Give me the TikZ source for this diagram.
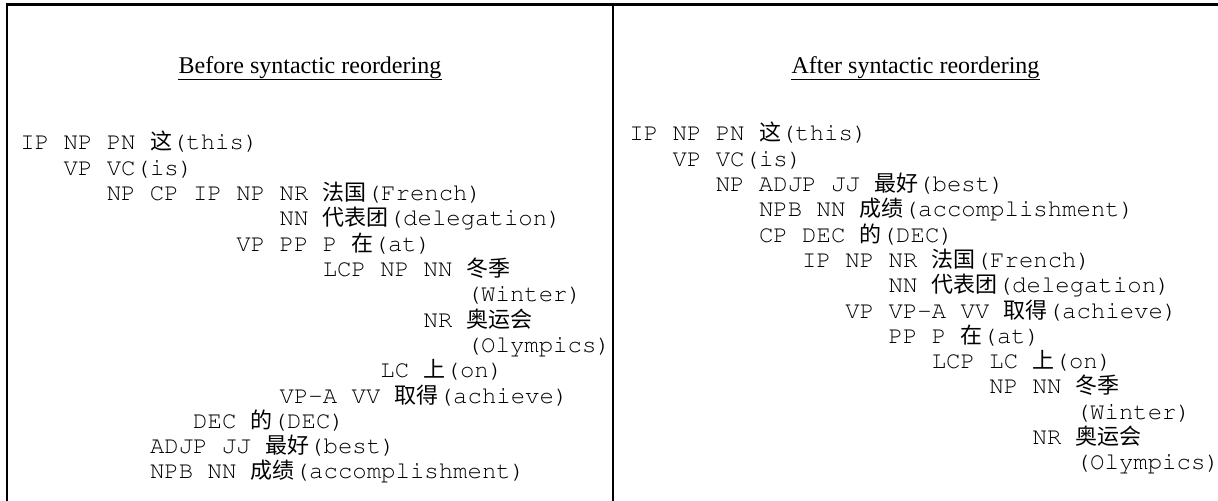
\documentclass[tikz,border=0pt]{standalone}
\usepackage[T1]{fontenc}
\usepackage{fontspec}
\setmainfont{Liberation Serif}
\newcommand\monof{\fontencoding{T1}\fontfamily{pcr}\fontseries{m}\fontshape{n}}
\newfontfamily\cjk{Noto Sans CJK SC}
\newcommand\zh[1]{{\cjk\fontsize{11}{11}\selectfont #1}}
\begin{document}
\begin{tikzpicture}[
  ln/.style={anchor=base west, inner sep=0pt, font=\monof\fontsize{12}{12}\selectfont},
  ttl/.style={anchor=base, inner sep=0pt, font=\fontsize{12}{12}\selectfont},
  rule/.style={line width=1.15pt},
  uline/.style={line width=0.65pt}]
\useasboundingbox (0,0) rectangle (609pt,-250.5pt);
\coordinate (bl) at (3.5pt,-250.5pt);
\coordinate (tl) at (3.5pt,-2.25pt);
\coordinate (tr) at (609pt,-2.25pt);
\coordinate (dt) at (306.5pt,-2.25pt);
\coordinate (db) at (306.5pt,-250.5pt);
\draw[rule] (bl) -- (tl) -- (tr);
\draw[rule] (dt) -- (db);
% titles
\node[ttl] (ttlL) at (155pt,-37pt) {Before syntactic reordering};
\node[ttl] (ttlR) at (457.75pt,-37pt) {After syntactic reordering};
\draw[uline] ([yshift=-2.6pt]ttlL.base west) -- ([yshift=-2.6pt]ttlL.base east);
\draw[uline] ([yshift=-2.6pt]ttlR.base west) -- ([yshift=-2.6pt]ttlR.base east);
% left tree
\begin{scope}[shift={(10pt,-75pt)}, x=7.2pt, y=-12.65pt]
\node[ln] (l1) at (0,0) {IP NP PN \zh{这}(this)};
\node[ln] (l2) at (3,1) {VP VC(is)};
\node[ln] (l3) at (6,2) {NP CP IP NP NR \zh{法国}(French)};
\node[ln] (l4) at (18,3) {NN \zh{代表团}(delegation)};
\node[ln] (l5) at (15,4) {VP PP P \zh{在}(at)};
\node[ln] (l6) at (21,5) {LCP NP NN \zh{冬季}};
\node[ln] (l7) at (31,6) {(Winter)};
\node[ln] (l8) at (28,7) {NR \zh{奥运会}};
\node[ln] (l9) at (31,8) {(Olympics)};
\node[ln] (l10) at (25,9) {LC \zh{上}(on)};
\node[ln] (l11) at (18,10) {VP-A VV \zh{取得}(achieve)};
\node[ln] (l12) at (12,11) {DEC \zh{的}(DEC)};
\node[ln] (l13) at (9,12) {ADJP JJ \zh{最好}(best)};
\node[ln] (l14) at (9,13) {NPB NN \zh{成绩}(accomplishment)};
\end{scope}
% right tree
\begin{scope}[shift={(314.5pt,-70.5pt)}, x=7.2pt, y=-12.65pt]
\node[ln] (r1) at (0,0) {IP NP PN \zh{这}(this)};
\node[ln] (r2) at (3,1) {VP VC(is)};
\node[ln] (r3) at (6,2) {NP ADJP JJ \zh{最好}(best)};
\node[ln] (r4) at (9,3) {NPB NN \zh{成绩}(accomplishment)};
\node[ln] (r5) at (9,4) {CP DEC \zh{的}(DEC)};
\node[ln] (r6) at (12,5) {IP NP NR \zh{法国}(French)};
\node[ln] (r7) at (18,6) {NN \zh{代表团}(delegation)};
\node[ln] (r8) at (15,7) {VP VP-A VV \zh{取得}(achieve)};
\node[ln] (r9) at (18,8) {PP P \zh{在}(at)};
\node[ln] (r10) at (21,9) {LCP LC \zh{上}(on)};
\node[ln] (r11) at (25,10) {NP NN \zh{冬季}};
\node[ln] (r12) at (31,11) {(Winter)};
\node[ln] (r13) at (28,12) {NR \zh{奥运会}};
\node[ln] (r14) at (31,13) {(Olympics)};
\end{scope}
\end{tikzpicture}
\end{document}
